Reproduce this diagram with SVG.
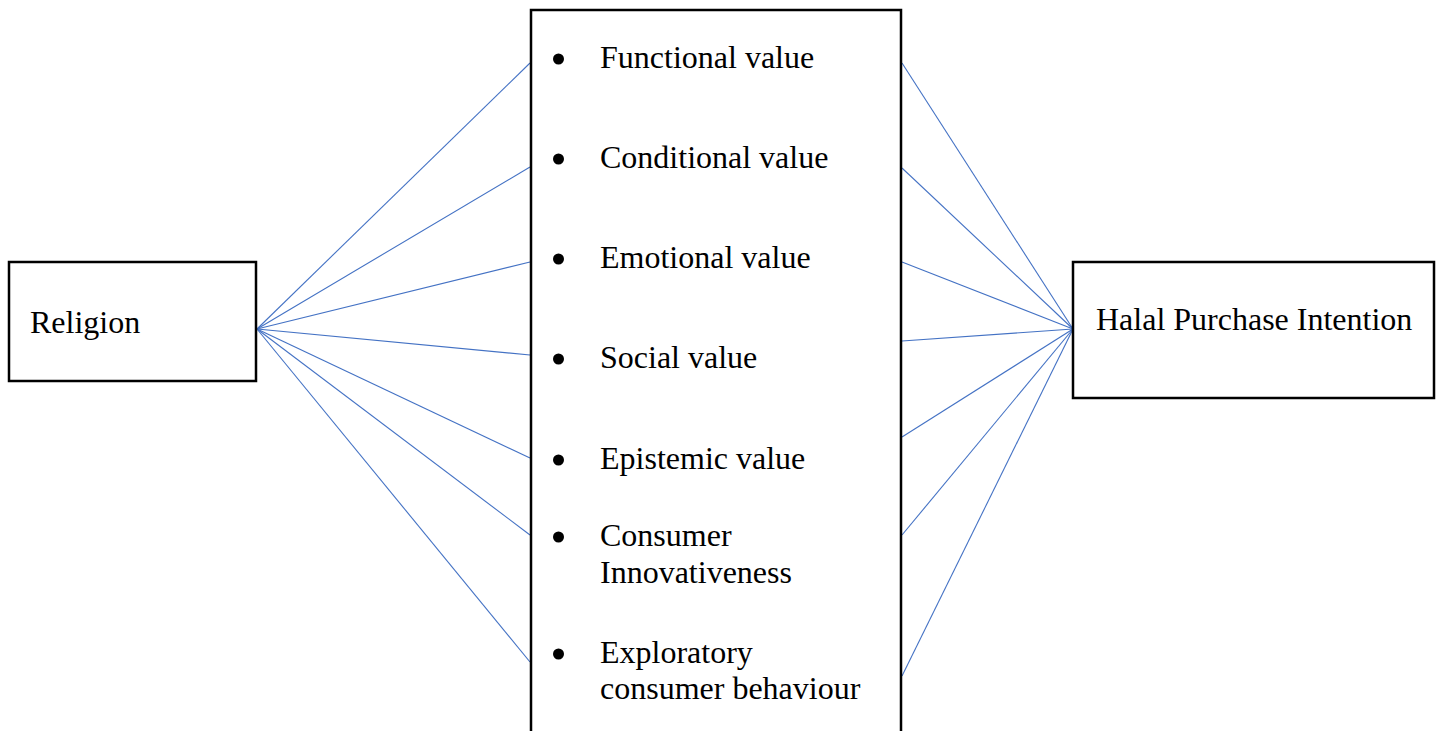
<svg xmlns="http://www.w3.org/2000/svg" width="1440" height="731" viewBox="0 0 1440 731">
  <style>
    .box { fill: #ffffff; stroke: #000000; stroke-width: 2.5; }
    .lbl { font-family: "Liberation Serif", "Times New Roman", serif; font-size: 32px; fill: #000000; }
    .link { stroke: #4472C4; stroke-width: 1.1; fill: none; }
    .dot { fill: #000000; }
  </style>
  <rect width="1440" height="731" fill="#ffffff"/>

  <g id="connectors">
    <line class="link" x1="257" y1="329" x2="530" y2="63"/>
    <line class="link" x1="257" y1="329" x2="530" y2="167"/>
    <line class="link" x1="257" y1="329" x2="530" y2="262"/>
    <line class="link" x1="257" y1="329" x2="530" y2="355"/>
    <line class="link" x1="257" y1="329" x2="530" y2="458"/>
    <line class="link" x1="257" y1="329" x2="530" y2="535"/>
    <line class="link" x1="257" y1="329" x2="530" y2="662"/>
    <line class="link" x1="902" y1="63" x2="1073" y2="329"/>
    <line class="link" x1="902" y1="168" x2="1073" y2="329"/>
    <line class="link" x1="902" y1="262" x2="1073" y2="329"/>
    <line class="link" x1="902" y1="341" x2="1073" y2="329"/>
    <line class="link" x1="902" y1="437" x2="1073" y2="329"/>
    <line class="link" x1="902" y1="535" x2="1073" y2="329"/>
    <line class="link" x1="902" y1="676" x2="1073" y2="329"/>
  </g>

  <g id="religion">
    <rect class="box" x="9" y="262" width="247" height="119"/>
    <text class="lbl" x="30" y="333">Religion</text>
  </g>

  <g id="values">
    <rect class="box" x="531" y="10" width="370" height="730"/>
    <circle class="dot" cx="558.5" cy="59" r="5.5"/>
    <text class="lbl" x="600" y="68">Functional value</text>
    <circle class="dot" cx="558.5" cy="159" r="5.5"/>
    <text class="lbl" x="600" y="168">Conditional value</text>
    <circle class="dot" cx="558.5" cy="259" r="5.5"/>
    <text class="lbl" x="600" y="268">Emotional value</text>
    <circle class="dot" cx="558.5" cy="359" r="5.5"/>
    <text class="lbl" x="600" y="368">Social value</text>
    <circle class="dot" cx="558.5" cy="460" r="5.5"/>
    <text class="lbl" x="600" y="469">Epistemic value</text>
    <circle class="dot" cx="558.5" cy="537" r="5.5"/>
    <text class="lbl" x="600" y="546">Consumer</text>
    <text class="lbl" x="600" y="583">Innovativeness</text>
    <circle class="dot" cx="558.5" cy="654" r="5.5"/>
    <text class="lbl" x="600" y="663">Exploratory</text>
    <text class="lbl" x="600" y="699">consumer behaviour</text>
  </g>

  <g id="intention">
    <rect class="box" x="1073" y="262" width="361" height="136"/>
    <text class="lbl" x="1096" y="330">Halal Purchase Intention</text>
  </g>
</svg>
